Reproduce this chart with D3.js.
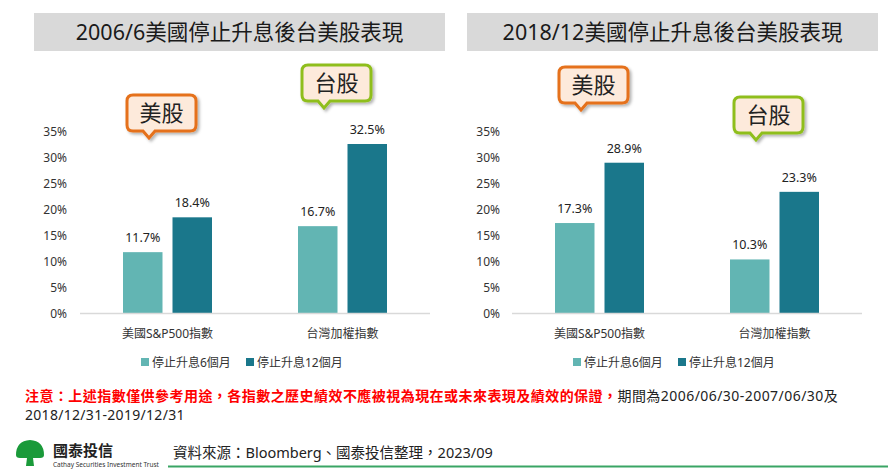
<!DOCTYPE html>
<html><head><meta charset="utf-8">
<script src="https://cdn.jsdelivr.net/npm/d3@7"></script>
<style>
html,body{margin:0;padding:0;background:#fff;}
svg{display:block;font-family:"Noto Sans","Noto Sans CJK TC",sans-serif;}
</style></head>
<body><svg id="c" width="888" height="472"></svg>
<script>
const categories = ["美國S&P500指數", "台灣加權指數"];
const seriesNames = ["停止升息6個月", "停止升息12個月"];
const titles = ["2006/6美國停止升息後台美股表現", "2018/12美國停止升息後台美股表現"];
const panel1_6m = [11.7, 16.7];
const panel1_12m = [18.4, 32.5];
const panel2_6m = [17.3, 10.3];
const panel2_12m = [28.9, 23.3];
const yTicks = [0, 5, 10, 15, 20, 25, 30, 35];
const calloutNames = ["美股", "台股"];
const noteRed = "注意：上述指數僅供參考用途，各指數之歷史績效不應被視為現在或未來表現及績效的保證，";
const noteBlack = "期間為2006/06/30-2007/06/30及";
const noteLine2 = "2018/12/31-2019/12/31";
const sourceText = "資料來源：Bloomberg、國泰投信整理，2023/09";

const colors = ["#62b5b3", "#1a778b"];
const svg = d3.select("#c");
const defs = svg.append("defs");
const f = defs.append("filter").attr("id","sh").attr("x","-20%").attr("y","-20%").attr("width","150%").attr("height","160%");
f.append("feDropShadow").attr("dx",2).attr("dy",2).attr("stdDeviation",1.5).attr("flood-color","#000").attr("flood-opacity",0.3);

const panels = [
  {title: titles[0], s: [panel1_6m, panel1_12m], x0: 80, x1: 430, box:[34,445], labelX: 67,
   callouts: [{cat:0, top:95, name:calloutNames[0], border:"#e5711a"}, {cat:1, top:65, name:calloutNames[1], border:"#8fbe1f"}]},
  {title: titles[1], s: [panel2_6m, panel2_12m], x0: 512, x1: 862, box:[467,878], labelX: 500,
   callouts: [{cat:0, top:67, name:calloutNames[0], border:"#e5711a"}, {cat:1, top:97, name:calloutNames[1], border:"#8fbe1f"}]}
];

const y = d3.scaleLinear().domain([0, 35]).range([313, 131]);

panels.forEach(p => {
  const g = svg.append("g");
  g.append("rect").attr("x", p.box[0]).attr("y", 13).attr("width", p.box[1]-p.box[0]).attr("height", 38).attr("fill", "#d9d9d9");
  g.append("text").attr("x", (p.box[0]+p.box[1])/2).attr("y", 39.5).attr("text-anchor","middle")
    .attr("font-size", 21.5).attr("fill", "#1a1a1a").text(p.title);

  const x = d3.scaleBand().domain(categories).range([p.x0, p.x1]);
  const xs = d3.scaleBand().domain(seriesNames).range([43, 132]).paddingInner(0.202);

  g.selectAll(".yt").data(yTicks).join("text")
    .attr("x", p.labelX).attr("y", d => y(d) + 4.5).attr("text-anchor", "end")
    .attr("font-size", 12).attr("fill", "#333").text(d => d + "%");

  seriesNames.forEach((sn, si) => {
    const vals = p.s[si];
    g.selectAll(".b" + si).data(categories).join("rect")
      .attr("x", (c) => x(c) + xs(sn)).attr("width", xs.bandwidth())
      .attr("y", (c, i) => y(vals[i])).attr("height", (c, i) => y(0) - y(vals[i]))
      .attr("fill", colors[si]);
    g.selectAll(".l" + si).data(categories).join("text")
      .attr("x", (c) => x(c) + xs(sn) + xs.bandwidth()/2)
      .attr("y", (c, i) => y(vals[i]) - 10).attr("text-anchor", "middle")
      .attr("font-size", 12.5).attr("fill", "#222").text((c, i) => vals[i].toFixed(1) + "%");
  });

  g.append("line").attr("x1", p.x0).attr("x2", p.x1).attr("y1", y(0)+0.5).attr("y2", y(0)+0.5)
    .attr("stroke", "#d9d9d9").attr("stroke-width", 1.5);

  g.selectAll(".cl").data(categories).join("text")
    .attr("x", c => x(c) + x.bandwidth()/2).attr("y", 338).attr("text-anchor", "middle")
    .attr("font-size", 12).attr("fill", "#333").text(c => c);

  const lx = p.x0 + 61;
  const legendPos = [lx, lx + 105];
  seriesNames.forEach((sn, si) => {
    g.append("rect").attr("x", legendPos[si]).attr("y", 358).attr("width", 8).attr("height", 8).attr("fill", colors[si]);
    g.append("text").attr("x", legendPos[si] + 11).attr("y", 367).attr("font-size", 12).attr("fill", "#333").text(sn);
  });

  p.callouts.forEach(co => {
    const cx = x(categories[co.cat]) + x.bandwidth()/2 - 6;
    const w = 69, h = 36, r = 6;
    const bx = cx - w/2, by = co.top;
    const tx = bx + 22;
    const path = `M${bx+r},${by} H${bx+w-r} Q${bx+w},${by} ${bx+w},${by+r} V${by+h-r} Q${bx+w},${by+h} ${bx+w-r},${by+h}
      H${tx+6} L${tx},${by+h+7} L${tx-6},${by+h} H${bx+r} Q${bx},${by+h} ${bx},${by+h-r} V${by+r} Q${bx},${by} ${bx+r},${by} Z`;
    g.append("path").attr("d", path).attr("fill", "#fdeadb").attr("stroke", co.border).attr("stroke-width", 3)
      .attr("filter", "url(#sh)");
    g.append("text").attr("x", bx + w/2).attr("y", by + h/2 + 8).attr("text-anchor","middle")
      .attr("font-size", 22).attr("fill", "#222").text(co.name);
  });
});

const n1 = svg.append("text").attr("x", 25).attr("y", 401).attr("font-size", 14).attr("letter-spacing", 0.45);
n1.append("tspan").attr("fill", "#ff0000").attr("font-weight", "bold").text(noteRed);
n1.append("tspan").attr("fill", "#222").text(noteBlack);
svg.append("text").attr("x", 25).attr("y", 420).attr("font-size", 14).attr("letter-spacing", 0.3).attr("fill", "#222").text(noteLine2);

svg.append("text").attr("x", 173).attr("y", 458).attr("font-size", 14.5).attr("fill", "#222").text(sourceText);
svg.append("line").attr("x1", 168).attr("x2", 888).attr("y1", 466.5).attr("y2", 466.5).attr("stroke", "#3aa565").attr("stroke-width", 2);

const lg = svg.append("g");
lg.append("path").attr("d", "M16,455 Q16,441 30,440 Q44,441 44,455 Q44,458 40,458 L33,458 L34,466 L26,466 L27,458 L20,458 Q16,458 16,455 Z")
  .attr("fill", "#1a9a3a");
lg.append("text").attr("x", 53).attr("y", 456).attr("font-size", 15).attr("font-weight", "bold").attr("fill", "#222").text("國泰投信");
lg.append("text").attr("x", 53).attr("y", 467).attr("font-size", 6.5).attr("fill", "#333").text("Cathay Securities Investment Trust");
</script></body></html>
